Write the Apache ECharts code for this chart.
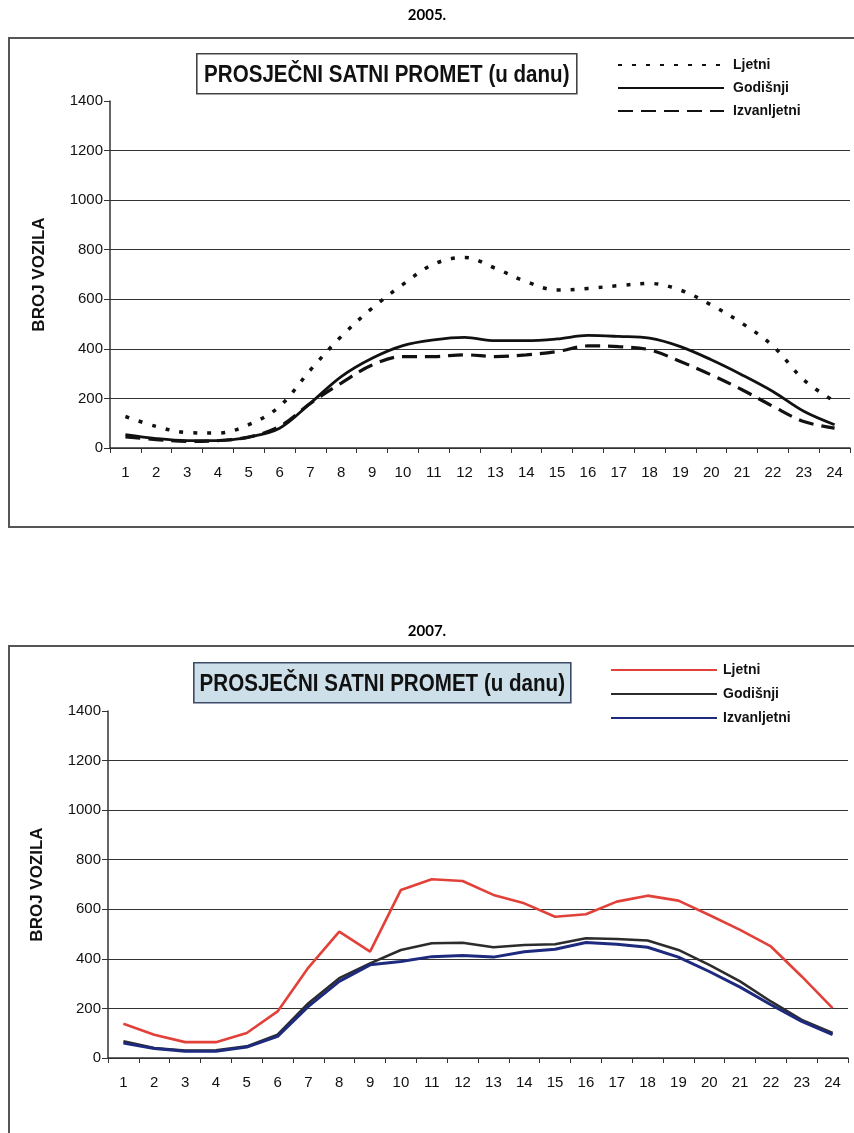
<!DOCTYPE html>
<html>
<head>
<meta charset="utf-8">
<script src="https://cdn.jsdelivr.net/npm/echarts@6/dist/echarts.min.js"></script>
<style>
  html, body { margin: 0; padding: 0; background: #fff; }
  #c2005 { position: absolute; left: 0; top: 0; width: 854px; height: 560px; }
  #c2007 { position: absolute; left: 0; top: 600px; width: 854px; height: 533px; }
</style>
</head>
<body>
<div id="c2005"></div>
<div id="c2007"></div>
<script>
// Hours of the day
const hours = ['1','2','3','4','5','6','7','8','9','10','11','12','13','14','15','16','17','18','19','20','21','22','23','24'];
const yTicks = [0, 200, 400, 600, 800, 1000, 1200, 1400];

// 2005 average hourly traffic (vehicles)
const ljetni2005 = [127, 87, 62, 60, 94, 168, 315, 450, 564, 660, 742, 769, 725, 671, 637, 644, 655, 664, 637, 577, 503, 412, 275, 188];
const godisnji2005 = [54, 38, 30, 30, 44, 80, 181, 288, 362, 413, 436, 446, 433, 433, 440, 454, 450, 443, 409, 356, 295, 228, 148, 94];
const izvanljetni2005 = [45, 34, 27, 30, 44, 87, 180, 262, 335, 369, 369, 376, 369, 376, 389, 412, 409, 396, 349, 295, 235, 168, 107, 80];

// 2007 average hourly traffic (vehicles)
const ljetni2007 = [138, 94, 64, 64, 101, 188, 365, 510, 429, 678, 721, 714, 658, 624, 570, 580, 631, 655, 635, 577, 517, 450, 329, 201];
const godisnji2007 = [67, 40, 30, 31, 47, 94, 221, 322, 382, 436, 463, 465, 447, 456, 459, 483, 480, 474, 436, 376, 309, 228, 154, 101];
const izvanljetni2007 = [60, 38, 27, 27, 44, 87, 208, 309, 376, 389, 409, 414, 407, 429, 439, 466, 459, 447, 407, 349, 286, 215, 148, 94];

const FONT = "'Liberation Sans', Arial, sans-serif";

function buildOption(cfg) {
  return {
    animation: false,
    backgroundColor: '#fff',
    textStyle: { fontFamily: FONT },
    graphic: [
      // year heading
      { type: 'text', left: 'center', top: cfg.yearTop,
        style: { text: cfg.year, font: "bold 15px Lato, 'Open Sans', sans-serif", fill: '#000' } },
      // outer frame
      { type: 'rect', shape: { x: 9, y: cfg.frameTop, width: 860, height: cfg.frameHeight },
        style: { fill: 'none', stroke: '#555', lineWidth: 2 }, z: -1 },
      // heading box
      { type: 'group', left: cfg.boxX, top: cfg.boxY, children: [
        { type: 'rect', shape: { x: 0, y: 0, width: cfg.boxW, height: 40 },
          style: { fill: cfg.boxFill, stroke: cfg.boxStroke, lineWidth: 1.6 } },
        { type: 'text', x: cfg.boxW / 2, y: 21, scaleX: 0.84, originX: 0, originY: 0,
          style: { text: 'PROSJEČNI SATNI PROMET (u danu)', font: 'bold 24.5px ' + FONT,
                   fill: '#111', textAlign: 'center', textVerticalAlign: 'middle' } }
      ] }
    ],
    legend: {
      orient: 'vertical', left: cfg.legendLeft, top: cfg.legendTop, padding: 0,
      itemWidth: 106, itemHeight: 14, itemGap: cfg.legendGap,
      itemStyle: { opacity: 0 },
      textStyle: { fontFamily: FONT, fontSize: 14, fontWeight: 'bold', color: '#111', padding: [0, 0, 0, cfg.legendTextPad] },
      data: ['Ljetni', 'Godišnji', 'Izvanljetni']
    },
    grid: { left: cfg.gridLeft, top: cfg.gridTop, width: 740, height: 347, containLabel: false },
    xAxis: {
      type: 'category', data: hours, boundaryGap: true,
      axisLine: { lineStyle: { color: '#333', width: 1.5 } },
      axisTick: { show: true, length: 5, alignWithLabel: false, lineStyle: { color: '#333' } },
      axisLabel: { color: '#111', fontSize: 15, margin: 17, interval: 0, fontFamily: FONT }
    },
    yAxis: {
      type: 'value', min: yTicks[0], max: yTicks[yTicks.length - 1], interval: yTicks[1] - yTicks[0],
      name: 'BROJ VOZILA', nameLocation: 'middle', nameRotate: 90, nameGap: 62,
      nameTextStyle: { fontSize: 17, fontWeight: 'bold', color: '#111', fontFamily: FONT },
      axisLine: { show: true, lineStyle: { color: '#333', width: 1.5 } },
      axisTick: { show: true, length: 6, lineStyle: { color: '#333' } },
      axisLabel: { color: '#111', fontSize: 15, margin: 7, fontFamily: FONT,
                   formatter: function (v) { return String(v); } },
      splitLine: { show: true, showMaxLine: false, lineStyle: { color: '#333', width: 1.2 } }
    },
    series: cfg.series
  };
}

// 2005: black smoothed lines with dotted / solid / dashed styles
const chart2005 = echarts.init(document.getElementById('c2005'));
chart2005.setOption(buildOption({
  year: '2005.', yearTop: 8, frameTop: 38, frameHeight: 489,
  boxX: 196, boxY: 53, boxW: 380, boxFill: '#fff', boxStroke: '#444',
  legendLeft: 617, legendTop: 58, legendGap: 9, legendTextPad: 4,
  gridLeft: 110, gridTop: 101,
  series: [
    { name: 'Ljetni', type: 'line', data: ljetni2005, smooth: 0.35, symbol: 'none',
      lineStyle: { color: '#111', width: 3.5, type: [4, 10] }, itemStyle: { color: '#111' } },
    { name: 'Godišnji', type: 'line', data: godisnji2005, smooth: 0.35, symbol: 'none',
      lineStyle: { color: '#111', width: 2.8 }, itemStyle: { color: '#111' } },
    { name: 'Izvanljetni', type: 'line', data: izvanljetni2005, smooth: 0.35, symbol: 'none',
      lineStyle: { color: '#111', width: 3.2, type: [15, 8] }, itemStyle: { color: '#111' } }
  ]
}));

// 2007: coloured straight lines
const chart2007 = echarts.init(document.getElementById('c2007'));
chart2007.setOption(buildOption({
  year: '2007.', yearTop: 24, frameTop: 46, frameHeight: 600,
  boxX: 193, boxY: 62, boxW: 377, boxFill: '#cddfe9', boxStroke: '#3c4a6a',
  legendLeft: 610, legendTop: 63, legendGap: 10, legendTextPad: 1,
  gridLeft: 108, gridTop: 111,
  series: [
    { name: 'Ljetni', type: 'line', data: ljetni2007, symbol: 'none',
      lineStyle: { color: '#e2413a', width: 2.6 }, itemStyle: { color: '#e2413a' } },
    { name: 'Godišnji', type: 'line', data: godisnji2007, symbol: 'none',
      lineStyle: { color: '#2c2c2c', width: 2.6 }, itemStyle: { color: '#2c2c2c' } },
    { name: 'Izvanljetni', type: 'line', data: izvanljetni2007, symbol: 'none',
      lineStyle: { color: '#1e2a7e', width: 3 }, itemStyle: { color: '#1e2a7e' } }
  ]
}));
</script>
</body>
</html>
